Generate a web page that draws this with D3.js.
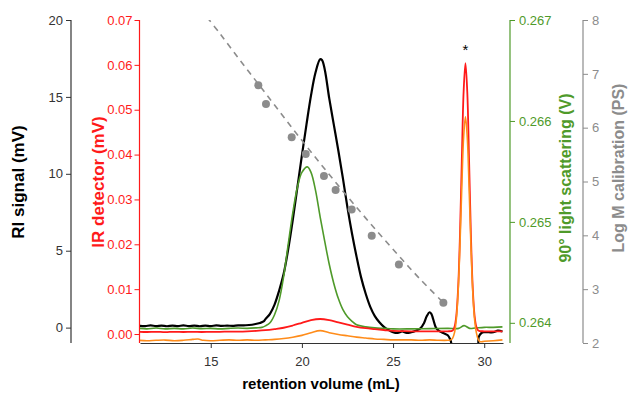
<!DOCTYPE html>
<html>
<head>
<meta charset="utf-8">
<script src="https://cdn.jsdelivr.net/npm/d3@7"></script>
<style>
  html, body { margin: 0; padding: 0; background: #fff; }
  svg { display: block; font-family: Arial, "Liberation Sans", sans-serif; }
</style>
</head>
<body>
<svg id="chart" width="628" height="394"></svg>
<script>
// ---- Data: retention volume (mL) paired with detector responses ----
const riTrace = [
  [11.1,0.12],[11.4,0.1],[11.7,0.14],[12.0,0.1],[12.3,0.13],[12.6,0.09],[12.9,0.13],[13.2,0.1],
  [13.5,0.14],[13.8,0.1],[14.1,0.13],[14.4,0.09],[14.7,0.13],[15.0,0.1],[15.3,0.14],[15.6,0.11],
  [15.9,0.13],[16.2,0.11],[16.5,0.15],[16.8,0.14],[17.1,0.17],[17.4,0.22],[17.7,0.3],[17.9,0.4],
  [18.0,0.55],[18.25,0.9],[18.5,1.5],[18.75,2.4],[19.0,3.5],[19.25,5.1],[19.5,7.0],[19.75,9.1],
  [20.0,11.2],[20.25,13.2],[20.5,15.1],[20.75,16.6],[21.0,17.45],[21.1,17.4],[21.25,16.8],
  [21.5,14.9],[21.75,13.2],[22.0,11.5],[22.25,9.7],[22.5,7.8],[22.75,6.1],[23.0,4.6],[23.25,3.25],
  [23.5,2.2],[23.75,1.35],[24.0,0.75],[24.25,0.35],[24.5,0.05],[24.75,-0.15],[25.0,-0.3],
  [25.25,-0.35],[25.5,-0.25],[25.75,-0.35],[26.0,-0.3],[26.25,-0.2],[26.5,-0.05],[26.7,0.3],
  [26.85,0.75],[27.0,1.0],[27.1,0.9],[27.2,0.55],[27.35,0.0],[27.5,-0.2],[27.75,-0.35],
  [28.0,-0.5],[28.15,-0.8],[28.3,-1.3],[29.6,-1.3],[29.7,-0.6],[29.85,-0.35],[30.0,-0.3],
  [30.25,-0.3],[30.5,-0.3],[30.75,-0.2],[31.0,-0.25]
];

const irTrace = [
  [11.1,0.0005],[11.5,0.00045],[12,0.0005],[12.5,0.00042],[13,0.0005],[13.5,0.00045],[14,0.0005],
  [14.5,0.00045],[15,0.0005],[15.5,0.0005],[16,0.00055],[16.5,0.00055],[17,0.0006],[17.5,0.0007],
  [18,0.00085],[18.5,0.0011],[19,0.0014],[19.5,0.0019],[20,0.0025],[20.5,0.0031],[21,0.00335],
  [21.5,0.0031],[22,0.0026],[22.5,0.0021],[23,0.0016],[23.5,0.0013],[24,0.0011],[24.5,0.0009],
  [25,0.0007],[25.5,0.00065],[26,0.0006],[27,0.0006],[27.5,0.0006],[28,0.0006],
  [28.27,0.0008],[28.37,0.0016],[28.47,0.0041],[28.57,0.0103],[28.67,0.0221],[28.77,0.0386],
  [28.87,0.0540],[28.97,0.0604],[29.07,0.0540],[29.17,0.0386],[29.27,0.0221],[29.37,0.0103],
  [29.47,0.0041],[29.57,0.0016],[29.67,0.0008],[30,0.0006],[30.5,0.0006],[31,0.0006]
];

const irTrace2 = [
  [11.1,-0.0014],[11.5,-0.0015],[12,-0.0014],[12.5,-0.00135],[13,-0.0015],[13.5,-0.0014],
  [14,-0.0012],[14.3,-0.0011],[14.6,-0.0014],[15,-0.0015],[15.5,-0.0014],[16,-0.0013],
  [16.5,-0.0014],[17,-0.0013],[17.5,-0.0014],[18,-0.0013],[18.5,-0.0012],[19,-0.001],
  [19.5,-0.0007],[20,-0.0003],[20.5,0.0003],[21,0.00075],[21.5,0.0003],[22,-0.0001],
  [22.5,-0.0004],[23,-0.0007],[23.5,-0.0009],[24,-0.0011],[24.5,-0.0012],[25,-0.0013],
  [25.5,-0.0013],[26,-0.0013],[26.5,-0.0014],[27,-0.0013],[27.5,-0.0014],[28,-0.0014],
  [28.17,-0.0013],[28.27,-0.0009],[28.37,0.0003],[28.47,0.0033],[28.57,0.0096],[28.67,0.0199],
  [28.77,0.0327],[28.87,0.0439],[28.97,0.0484],[29.07,0.0439],[29.17,0.0327],[29.27,0.0199],
  [29.37,0.0096],[29.47,0.0033],[29.57,0.0003],[29.67,-0.0012],[29.77,-0.0017],[29.9,-0.0017],
  [30.0,-0.0016],[30.5,-0.0015],[31,-0.0013]
];

const lsTrace = [
  [11.1,0.263945],[11.5,0.26394],[12,0.263948],[12.5,0.26394],[13,0.263945],[13.5,0.26394],
  [14,0.263948],[14.5,0.263942],[15,0.263945],[15.5,0.26394],[16,0.263945],[16.5,0.263948],
  [17,0.263945],[17.5,0.26395],[17.8,0.263955],[18.0,0.26397],[18.25,0.264],[18.5,0.26408],
  [18.75,0.26422],[19.0,0.26446],[19.25,0.26478],[19.5,0.26509],[19.75,0.26534],[20.0,0.26549],
  [20.3,0.265545],[20.5,0.26549],[20.75,0.26531],[21.0,0.26505],[21.25,0.26481],[21.5,0.26458],
  [21.75,0.26439],[22.0,0.26424],[22.25,0.26413],[22.5,0.26406],[22.75,0.264015],[23.0,0.26398],
  [23.5,0.26396],[24,0.26395],[24.5,0.263945],[25,0.26394],[26,0.26394],[27,0.263942],
  [28,0.263945],[28.6,0.263945],[28.9,0.263972],[29.2,0.263945],[29.5,0.263948],[30,0.263955],
  [30.5,0.263955],[31,0.26396]
];

// PS standards (volume, log M) and the calibration fit through them
const calVolume = [17.61, 18.03, 19.44, 20.21, 21.21, 21.85, 22.73, 23.83, 25.32, 27.76];
const calLogM   = [6.79, 6.44, 5.82, 5.51, 5.10, 4.84, 4.48, 3.99, 3.46, 2.75];
const calFit = [
  [14.8,8.05],[15.5,7.75],[16.5,7.3],[17.5,6.86],[18.5,6.42],[19.5,5.98],[20.5,5.55],
  [21.5,5.13],[22.5,4.72],[23.5,4.32],[24.5,3.93],[25.5,3.55],[26.5,3.18],[27.76,2.75]
];

// Axis ticks
const xMajor = [15, 20, 25, 30];
const xMinor = [12.5, 17.5, 22.5, 27.5];
const riMajor = [0, 5, 10, 15, 20];
const riMinor = [2.5, 7.5, 12.5, 17.5];
const irMajor = [0, 0.01, 0.02, 0.03, 0.04, 0.05, 0.06, 0.07];
const irMinor = [0.005, 0.015, 0.025, 0.035, 0.045, 0.055, 0.065];
const lsMajor = [0.264, 0.265, 0.266, 0.267];
const lsMinor = [0.2645, 0.2655, 0.2665];
const lmMajor = [2, 3, 4, 5, 6, 7, 8];
const lmMinor = [2.5, 3.5, 4.5, 5.5, 6.5, 7.5];

// ---- Layout ----
const svg = d3.select("#chart");
const pLeft = 140, pRight = 503, pTop = 20, pBottom = 343;

const x   = d3.scaleLinear().domain([11.12, 31.03]).range([pLeft, pRight]);
const yRI = d3.scaleLinear().domain([-1, 20]).range([pBottom, pTop]);
const yIR = d3.scaleLinear().domain([-0.002, 0.07]).range([pBottom, pTop]);
const yLS = d3.scaleLinear().domain([0.2638, 0.267]).range([pBottom, pTop]);
const yLM = d3.scaleLinear().domain([2, 8]).range([pBottom, pTop]);

const RED = "#ff1a1a", GREEN = "#4f9a2a", GRAY = "#8c8c8c", ORANGE = "#ff8c1a";

svg.append("defs").append("clipPath").attr("id", "plot")
  .append("rect").attr("x", pLeft).attr("y", pTop)
  .attr("width", pRight - pLeft).attr("height", pBottom - pTop);

function drawAxis(axisFn, scale, major, minor, pos, color, fmt, pad, vertical) {
  const g = svg.append("g").attr("transform", pos);
  g.call(axisFn(scale).tickValues(minor).tickSize(3).tickSizeOuter(0).tickFormat(""));
  g.call(axisFn(scale).tickValues(major).tickSize(5).tickSizeOuter(0).tickPadding(pad).tickFormat(fmt));
  g.selectAll("path.domain").attr("stroke", color).attr("stroke-width", 1.2);
  if (vertical) g.selectAll("path.domain").attr("d", `M0,${pTop}V${pBottom}`);
  g.selectAll(".tick line").attr("stroke", color).attr("stroke-width", 1);
  g.selectAll("text").attr("fill", color).attr("font-size", 13)
    .style("font-family", "Arial, 'Liberation Sans', sans-serif");
  return g;
}

drawAxis(d3.axisBottom, x, xMajor, xMinor, `translate(0,${pBottom})`, "#333", d3.format("d"), 9, false);
drawAxis(d3.axisLeft, yRI, riMajor, riMinor, `translate(71,0)`, "#333", d3.format("d"), 3, true);
drawAxis(d3.axisLeft, yIR, irMajor, irMinor, `translate(139.5,0)`, RED, d3.format(".2f"), 2, true);
drawAxis(d3.axisRight, yLS, lsMajor, lsMinor, `translate(510,0)`, GREEN, d3.format(".3f"), 4, true);
drawAxis(d3.axisRight, yLM, lmMajor, lmMinor, `translate(583,0)`, GRAY, d3.format("d"), 4, true);

// ---- Traces ----
const plot = svg.append("g").attr("clip-path", "url(#plot)");
const line = (ys) => d3.line().x(d => x(d[0])).y(d => ys(d[1])).curve(d3.curveCatmullRom.alpha(0.5));

plot.append("path").datum(riTrace).attr("d", line(yRI))
  .attr("fill", "none").attr("stroke", "#000").attr("stroke-width", 2.2);
plot.append("path").datum(lsTrace).attr("d", line(yLS))
  .attr("fill", "none").attr("stroke", GREEN).attr("stroke-width", 1.6);
plot.append("path").datum(irTrace).attr("d", line(yIR))
  .attr("fill", "none").attr("stroke", RED).attr("stroke-width", 1.8);
plot.append("path").datum(irTrace2).attr("d", line(yIR))
  .attr("fill", "none").attr("stroke", ORANGE).attr("stroke-width", 1.6);

// calibration fit and standards
plot.append("path").datum(calFit).attr("d", line(yLM))
  .attr("fill", "none").attr("stroke", GRAY).attr("stroke-width", 1.6)
  .attr("stroke-dasharray", "6,5");
plot.selectAll("circle.std").data(calVolume).enter().append("circle")
  .attr("class", "std")
  .attr("cx", d => x(d)).attr("cy", (d, i) => yLM(calLogM[i]))
  .attr("r", 4).attr("fill", GRAY);

// peak marker
svg.append("text").attr("x", x(28.97)).attr("y", 55).attr("text-anchor", "middle")
  .attr("font-size", 15).attr("fill", "#000").text("*");

// ---- Axis titles ----
svg.append("text").attr("x", 321).attr("y", 389).attr("text-anchor", "middle")
  .attr("font-size", 15).attr("font-weight", "bold").attr("fill", "#000")
  .text("retention volume (mL)");

function yTitle(text, cx, cy, color, size) {
  svg.append("text").attr("transform", `translate(${cx},${cy}) rotate(-90)`)
    .attr("text-anchor", "middle").attr("dy", "0.35em")
    .attr("font-size", size).attr("font-weight", "bold").attr("fill", color).text(text);
}
yTitle("RI signal (mV)", 18, 182, "#000", 17);
yTitle("IR detector (mV)", 98, 182, RED, 17);
yTitle("90° light scattering (V)", 565, 178, GREEN, 16);
yTitle("Log M calibration (PS)", 618, 168, GRAY, 16);
</script>
</body>
</html>
